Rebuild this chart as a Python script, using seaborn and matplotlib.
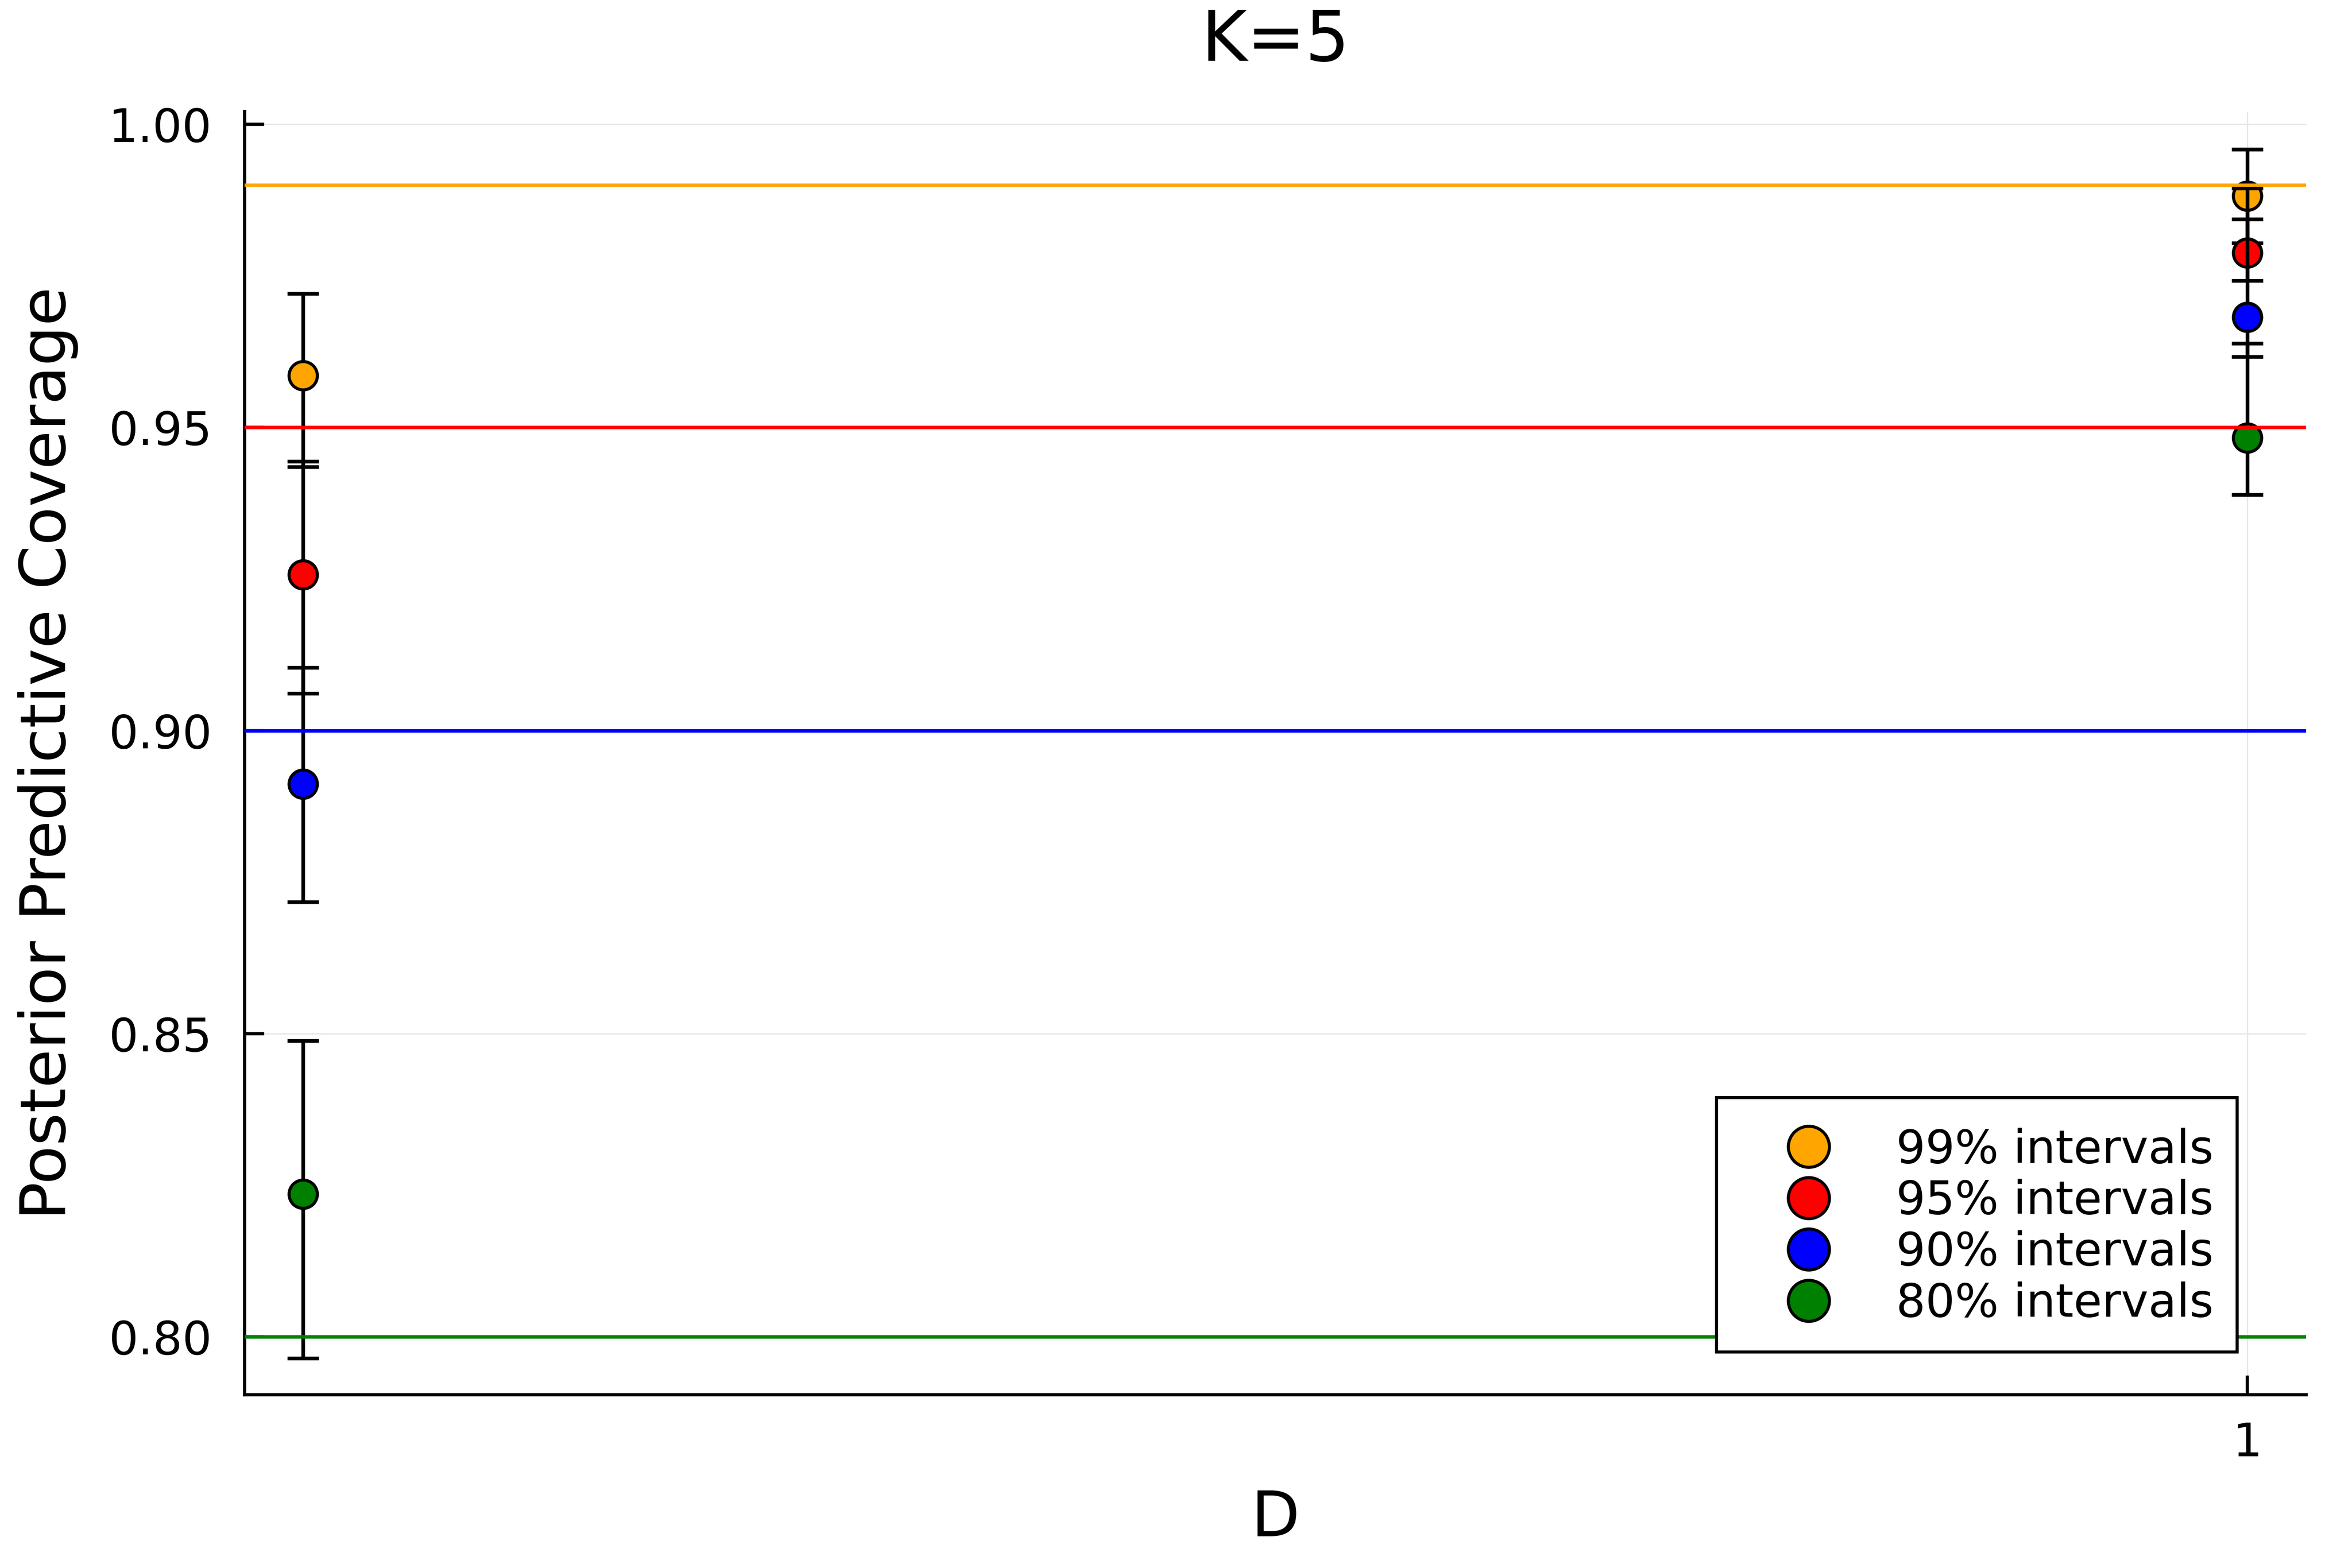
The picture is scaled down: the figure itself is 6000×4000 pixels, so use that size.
import numpy as np
import pandas as pd
import matplotlib
matplotlib.use("Agg")
import matplotlib.pyplot as plt
from matplotlib.patches import Rectangle
from matplotlib.ticker import FormatStrFormatter
import seaborn as sns

# Data
d_positions = [0, 1]
d_ticks = [1]
interval_labels = ["99% intervals", "95% intervals", "90% intervals", "80% intervals"]
nominal_levels = [0.99, 0.95, 0.90, 0.80]
level_colors = ["orange", "red", "blue", "green"]

coverage_99 = [0.9586, 0.9882]
lower_99 = [0.9435, 0.9804]
upper_99 = [0.9721, 0.9959]

coverage_95 = [0.9257, 0.9788]
lower_95 = [0.9061, 0.9742]
upper_95 = [0.9444, 0.9895]

coverage_90 = [0.8912, 0.9682]
lower_90 = [0.8717, 0.9617]
upper_90 = [0.9104, 0.9844]

coverage_80 = [0.8235, 0.9483]
lower_80 = [0.7964, 0.9389]
upper_80 = [0.8488, 0.9639]

y_ticks = [0.80, 0.85, 0.90, 0.95, 1.00]

# Long-form table built from the arrays above
rows = []
for label, cov, lo, hi in zip(interval_labels,
                              [coverage_99, coverage_95, coverage_90, coverage_80],
                              [lower_99, lower_95, lower_90, lower_80],
                              [upper_99, upper_95, upper_90, upper_80]):
    for d, c, l, h in zip(d_positions, cov, lo, hi):
        rows.append({"interval": label, "D": d, "coverage": c, "lower": l, "upper": h})
coverage_df = pd.DataFrame(rows)

sns.set_theme(style="white")
plt.rcParams["font.family"] = ["DejaVu Sans"]
plt.rcParams["text.color"] = "black"
plt.rcParams["axes.labelcolor"] = "black"
plt.rcParams["xtick.color"] = "black"
plt.rcParams["ytick.color"] = "black"

fig = plt.figure(figsize=(15, 10), dpi=400)
ax = fig.add_axes([0.104, 0.1105, 0.8765, 0.81825])

# Error bars and points, one interval level at a time
for i, (label, color) in enumerate(zip(interval_labels, level_colors)):
    sub = coverage_df[coverage_df["interval"] == label]
    yerr = [sub["coverage"] - sub["lower"], sub["upper"] - sub["coverage"]]
    ax.errorbar(sub["D"], sub["coverage"], yerr=yerr, fmt="none",
                ecolor="black", elinewidth=1.7, capsize=7.2, capthick=1.7,
                zorder=3 + 2 * i)
    sns.scatterplot(data=sub, x="D", y="coverage", color=color, s=169,
                    edgecolor="black", linewidth=1.4, label=label,
                    legend=False, zorder=4 + 2 * i, ax=ax)

# Nominal coverage reference lines
for level, color in zip(nominal_levels, level_colors):
    ax.axhline(level, color=color, linewidth=1.6, zorder=20)

ax.set_xlim(-0.030, 1.0302)
ax.set_ylim(0.7904, 1.0021)
ax.set_xticks(d_ticks)
ax.set_yticks(y_ticks)
ax.yaxis.set_major_formatter(FormatStrFormatter("%.2f"))

ax.grid(True, color="#e6e6e6", linewidth=0.6, zorder=0)
ax.set_axisbelow(True)

for side in ["top", "right"]:
    ax.spines[side].set_visible(False)
for side in ["left", "bottom"]:
    ax.spines[side].set_color("black")
    ax.spines[side].set_linewidth(1.5)

ax.tick_params(axis="y", direction="in", length=9, width=1.5, color="black",
               labelcolor="black", labelsize=21.3, pad=15, left=True)
ax.tick_params(axis="x", direction="in", length=8.8, width=1.5, color="black",
               labelcolor="black", labelsize=21.3, pad=12, bottom=True)

ax.set_title("K=5", fontsize=32, y=1.0397, pad=0, va="baseline", color="black")
ax.set_xlabel("D", fontsize=29, color="black")
ax.set_ylabel("Posterior Predictive Coverage", fontsize=29, color="black")
ax.xaxis.set_label_coords(0.5, -0.073)
ax.yaxis.set_label_coords(-0.0806, 0.5)

# Legend box drawn square-cornered, contents placed inside it
box_x0, box_y0, box_x1, box_y1 = 0.7140, 0.0333, 0.9665, 0.2316
frame = Rectangle((box_x0, box_y0), box_x1 - box_x0, box_y1 - box_y0,
                  transform=ax.transAxes, facecolor="white", edgecolor="black",
                  linewidth=1.4, zorder=29, clip_on=False)
ax.add_patch(frame)

leg = ax.legend(loc="upper left", bbox_to_anchor=(box_x0, box_y1),
                borderaxespad=0, frameon=False, fontsize=21.2,
                borderpad=0.65, labelspacing=0.135, handlelength=2.69,
                handletextpad=0.55, markerscale=1.45, scatterpoints=1,
                scatteryoffsets=[0.5])
for text in leg.get_texts():
    text.set_color("black")
leg.set_zorder(30)

fig.savefig("out.png", dpi=400, facecolor="white")
